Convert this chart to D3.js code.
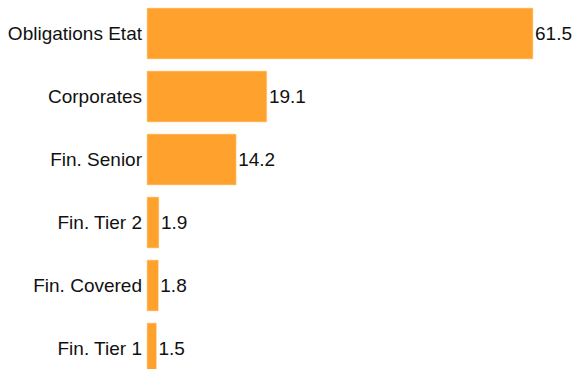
<!DOCTYPE html>
<html>
<head>
<meta charset="utf-8">
<script src="https://cdn.jsdelivr.net/npm/d3@7/dist/d3.min.js"></script>
<style>
  html, body { margin: 0; padding: 0; background: #fff; }
  svg { display: block; }
  text { font-family: "Liberation Sans", Arial, sans-serif; font-size: 19px; fill: #111; }
</style>
</head>
<body>
<svg id="chart" width="576" height="369"></svg>
<script>
// Bond allocation by category (%)
const categories = ["Obligations Etat", "Corporates", "Fin. Senior", "Fin. Tier 2", "Fin. Covered", "Fin. Tier 1"];
const values = [61.5, 19.1, 14.2, 1.9, 1.8, 1.5];

const width = 576, height = 369;
const svg = d3.select("#chart");

const x = d3.scaleLinear().domain([0, 61.5]).range([147, 533]);
const y = d3.scaleBand()
  .domain(categories)
  .range([2, 380])
  .paddingInner(12 / 63)
  .paddingOuter(6 / 63);

const rows = categories.map((c, i) => ({ c, v: values[i] }));

svg.selectAll("rect.bar")
  .data(rows)
  .join("rect")
  .attr("class", "bar")
  .attr("x", x(0))
  .attr("y", d => y(d.c))
  .attr("width", d => x(d.v) - x(0))
  .attr("height", y.bandwidth())
  .attr("fill", "#FFA12D")
  .attr("stroke", "#FFD9A8")
  .attr("stroke-width", 0.6);

svg.selectAll("text.cat")
  .data(rows)
  .join("text")
  .attr("class", "cat")
  .attr("x", x(0) - 5)
  .attr("y", d => y(d.c) + y.bandwidth() / 2)
  .attr("dy", "0.35em")
  .attr("text-anchor", "end")
  .text(d => d.c);

svg.selectAll("text.val")
  .data(rows)
  .join("text")
  .attr("class", "val")
  .attr("x", d => x(d.v) + 2)
  .attr("y", d => y(d.c) + y.bandwidth() / 2)
  .attr("dy", "0.35em")
  .text(d => d.v.toFixed(1));
</script>
</body>
</html>
